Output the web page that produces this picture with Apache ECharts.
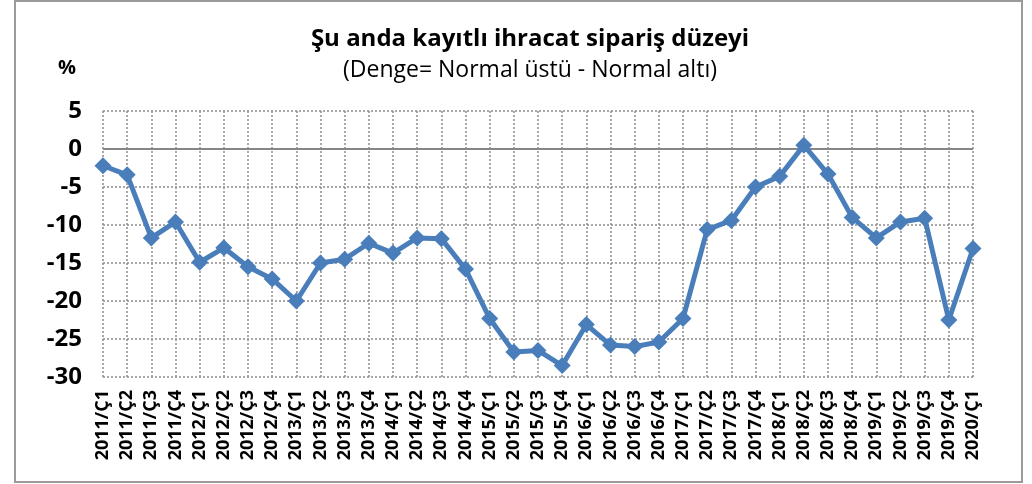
<!DOCTYPE html>
<html>
<head>
<meta charset="utf-8">
<script src="https://cdn.jsdelivr.net/npm/echarts@6/dist/echarts.min.js"></script>
<style>
html,body{margin:0;padding:0;background:#fff;}
#chart{width:1032px;height:484px;}
</style>
</head>
<body>
<div id="chart"></div>
<script>
const categories = [
  "2011/Ç1","2011/Ç2","2011/Ç3","2011/Ç4",
  "2012/Ç1","2012/Ç2","2012/Ç3","2012/Ç4",
  "2013/Ç1","2013/Ç2","2013/Ç3","2013/Ç4",
  "2014/Ç1","2014/Ç2","2014/Ç3","2014/Ç4",
  "2015/Ç1","2015/Ç2","2015/Ç3","2015/Ç4",
  "2016/Ç1","2016/Ç2","2016/Ç3","2016/Ç4",
  "2017/Ç1","2017/Ç2","2017/Ç3","2017/Ç4",
  "2018/Ç1","2018/Ç2","2018/Ç3","2018/Ç4",
  "2019/Ç1","2019/Ç2","2019/Ç3","2019/Ç4",
  "2020/Ç1"
];
const values = [
  -2.2, -3.4, -11.7, -9.6,
  -14.9, -13.0, -15.5, -17.1,
  -20.0, -15.0, -14.5, -12.4,
  -13.7, -11.7, -11.8, -15.8,
  -22.3, -26.7, -26.5, -28.5,
  -23.1, -25.8, -26.0, -25.4,
  -22.3, -10.6, -9.4, -5.0,
  -3.6, 0.5, -3.3, -9.0,
  -11.7, -9.6, -9.1, -22.5,
  -13.1
];
const titleText = "Şu anda kayıtlı ihracat sipariş düzeyi";
const subtitleText = "(Denge= Normal üstü - Normal altı)";
const unitLabel = "%";

const chart = echarts.init(document.getElementById('chart'));
const font = "'Open Sans', 'Liberation Sans', Arial, sans-serif";
chart.setOption({
  animation: false,
  backgroundColor: '#fff',
  graphic: [
    {type:'rect', shape:{x:15, y:1, width:1007, height:481}, style:{fill:'none', stroke:'#9a9a9a', lineWidth:2}, silent:true},
    {type:'text', left:58, top:58, style:{text:unitLabel, font:"bold 20px " + font, fill:'#000'}}
  ],
  title: {
    text: titleText,
    subtext: subtitleText,
    left: 525,
    textAlign: 'center',
    top: 22,
    itemGap: 8,
    textStyle: {fontFamily: font, fontWeight:'bold', fontSize: 24, color:'#000'},
    subtextStyle: {fontFamily: font, fontSize: 23, color:'#000'}
  },
  grid: {left:103, right:59, top:111, bottom:107, containLabel:false},
  xAxis: {
    type:'category',
    data: categories,
    boundaryGap: false,
    axisLine: {show:false},
    axisTick: {show:false},
    axisLabel: {rotate:90, fontFamily:font, fontWeight:'bold', fontSize:18, color:'#000', margin:13, interval:0},
    splitLine: {show:true, lineStyle:{type:[2,2], color:'#8c8c8c', width:1.5}}
  },
  yAxis: {
    type:'value',
    min:-30, max:5, interval:5,
    axisLine: {show:false},
    axisTick: {show:false},
    axisLabel: {fontFamily:font, fontWeight:'bold', fontSize:24, color:'#000', margin:21},
    splitLine: {show:true, lineStyle:{type:[2,2], color:'#8c8c8c', width:1.5}}
  },
  series: [{
    type:'line',
    data: values,
    lineStyle: {color:'#4a7ebb', width:5},
    itemStyle: {color:'#4a7ebb'},
    symbol:'diamond',
    symbolSize:17,
    z: 5,
    markLine: {
      silent:true,
      symbol:['none','none'],
      label:{show:false},
      lineStyle:{type:'solid', color:'#868686', width:2},
      data:[{yAxis:0}],
      z: 1
    }
  }]
});
</script>
</body>
</html>
